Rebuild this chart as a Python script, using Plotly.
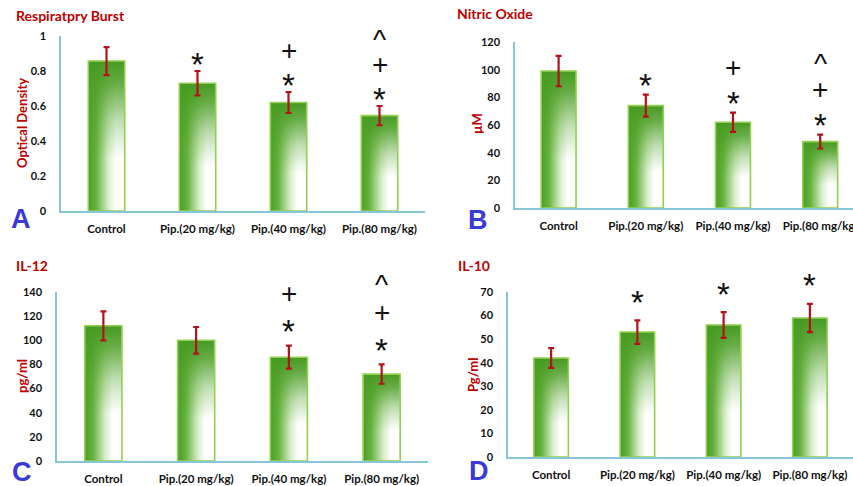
import plotly.graph_objects as go

W, H = 853, 486

groups = ["Control", "Pip.(20 mg/kg)", "Pip.(40 mg/kg)", "Pip.(80 mg/kg)"]

# Respiratory burst (optical density)
burst_mean = [0.857, 0.73, 0.62, 0.545]
burst_err = [0.08, 0.07, 0.06, 0.055]
burst_marks = [[], ["*"], ["*", "+"], ["*", "+", "^"]]

# Nitric oxide (µM)
no_mean = [99, 74, 62, 48]
no_err = [11, 8, 7, 5]
no_marks = [[], ["*"], ["*", "+"], ["*", "+", "^"]]

# IL-12 (pg/ml)
il12_mean = [112, 100, 86, 72]
il12_err = [12, 11, 9.5, 8]
il12_marks = [[], [], ["*", "+"], ["*", "+", "^"]]

# IL-10 (pg/ml)
il10_mean = [42, 53, 56, 59]
il10_err = [4.2, 5, 5.5, 6]
il10_marks = [[], ["*"], ["*"], ["*"]]

FONT = "Lato, 'Open Sans', sans-serif"
RED = "#c00000"
AXIS = "#86c6d6"
BORDER = "#92d050"
ERR = "#b3121b"

panels = [
    dict(title="Respiratpry Burst", ytitle="Optical Density", letter="A",
         mean=burst_mean, err=burst_err, marks=burst_marks,
         px=(61, 425), py=(211, 36), yr=(0, 1), dtick=0.2, xr=(-0.5, 3.5),
         title_xy=(14, 15), ytitle_xy=(22, 123), letter_xy=(21, 219),
         gap=11, step=30),
    dict(title="Nitric Oxide", ytitle="\u00b5M", letter="B",
         mean=no_mean, err=no_err, marks=no_marks,
         px=(515, 853), py=(208, 42), yr=(0, 120), dtick=20, xr=(-0.5, 3.376),
         title_xy=(455, 14), ytitle_xy=(477, 123), letter_xy=(478, 220),
         gap=13, step=31),
    dict(title="IL-12", ytitle="pg/ml", letter="C",
         mean=il12_mean, err=il12_err, marks=il12_marks,
         px=(57, 428), py=(461, 292), yr=(0, 140), dtick=20, xr=(-0.5, 3.5),
         title_xy=(14, 265), ytitle_xy=(22, 376), letter_xy=(22, 472),
         gap=18, step=33),
    dict(title="IL-10", ytitle="Pg/ml", letter="D",
         mean=il10_mean, err=il10_err, marks=il10_marks,
         px=(508, 853), py=(457, 292), yr=(0, 70), dtick=10, xr=(-0.5, 3.5),
         title_xy=(456, 265), ytitle_xy=(473, 375), letter_xy=(479, 471),
         gap=22, step=30),
]

HALF = 0.2  # half bar width in category units

# glyph sizes and how far each glyph's visual centre sits above its box middle
GLYPH_SIZE = {"*": 33, "+": 28, "^": 28}
GLYPH_RISE = {"*": 4, "+": -1, "^": 4}

fig = go.Figure()
layout = {}
annotations = []

for k, p in enumerate(panels):
    n = "" if k == 0 else str(k + 1)
    xref, yref = "x" + n, "y" + n
    xkey, ykey = "xaxis" + n, "yaxis" + n

    for i, v in enumerate(p["mean"]):
        x0, x1 = i - HALF, i + HALF
        xs = [x0, x1, x1, x0, x0]
        ys = [0, 0, v, v, 0]
        # horizontal shading: green on the left fading to white on the right
        fig.add_trace(go.Scatter(
            x=xs, y=ys, xaxis=xref, yaxis=yref, mode="lines", fill="toself",
            line=dict(width=0, color="rgba(0,0,0,0)"),
            fillgradient=dict(type="horizontal", start=x0, stop=x1,
                              colorscale=[[0, "#4a9d27"], [0.22, "#66b23f"],
                                          [0.55, "#d9edcb"], [0.75, "#ffffff"],
                                          [1, "#ffffff"]]),
            hoverinfo="skip"))
        # vertical shading: solid green at the top fading out downward
        fig.add_trace(go.Scatter(
            x=xs, y=ys, xaxis=xref, yaxis=yref, mode="lines", fill="toself",
            line=dict(width=1.6, color=BORDER),
            fillgradient=dict(type="vertical", start=0, stop=v,
                              colorscale=[[0, "rgba(84,168,48,0)"],
                                          [0.35, "rgba(84,168,48,0)"],
                                          [0.6, "rgba(80,162,42,0.35)"],
                                          [0.85, "rgba(76,158,38,0.85)"],
                                          [1, "rgba(70,154,34,1)"]]),
            hoverinfo="skip"))

    # error bars
    fig.add_trace(go.Scatter(
        x=list(range(len(p["mean"]))), y=p["mean"], xaxis=xref, yaxis=yref,
        mode="markers", marker=dict(size=1, opacity=0),
        error_y=dict(type="data", array=p["err"], color=ERR,
                     thickness=2.2, width=3),
        hoverinfo="skip"))

    layout[xkey] = dict(
        domain=[p["px"][0] / W, p["px"][1] / W], anchor=yref,
        range=list(p["xr"]), tickvals=list(range(len(groups))), ticktext=groups,
        showgrid=False, zeroline=False, showline=True, linecolor=AXIS,
        linewidth=1.5, ticks="", ticklabelstandoff=6, automargin=False,
        ticklabeloverflow="allow",
        tickfont=dict(family=FONT, size=11.5, color="#111111", weight="bold"))
    layout[ykey] = dict(
        domain=[1 - p["py"][0] / H, 1 - p["py"][1] / H], anchor=xref,
        range=list(p["yr"]), dtick=p["dtick"], tick0=0, automargin=False,
        showgrid=False, zeroline=False, showline=True, linecolor=AXIS,
        linewidth=1.5, ticks="", ticklabelstandoff=11,
        tickfont=dict(family=FONT, size=11, color="#111111", weight="bold"))

    # significance marks stacked above each error bar
    for i, marks in enumerate(p["marks"]):
        top = p["mean"][i] + p["err"][i]
        for j, m in enumerate(marks):
            annotations.append(dict(
                x=i, y=top, xref=xref, yref=yref, text=m, showarrow=False,
                xanchor="center", yanchor="middle",
                yshift=p["gap"] + j * p["step"] - GLYPH_RISE[m],
                font=dict(family="Liberation Sans, Arial, sans-serif",
                          size=GLYPH_SIZE[m], color="#111111")))

    tx, ty = p["title_xy"]
    annotations.append(dict(
        x=tx / W, y=1 - ty / H, xref="paper", yref="paper", text=p["title"],
        showarrow=False, xanchor="left", yanchor="middle",
        font=dict(family=FONT, size=14, color=RED, weight="bold")))
    yx, yy = p["ytitle_xy"]
    annotations.append(dict(
        x=yx / W, y=1 - yy / H, xref="paper", yref="paper", text=p["ytitle"],
        textangle=-90, showarrow=False, xanchor="center", yanchor="middle",
        font=dict(family=FONT, size=13, color=RED, weight="bold")))
    lx, ly = p["letter_xy"]
    annotations.append(dict(
        x=lx / W, y=1 - ly / H, xref="paper", yref="paper", text=p["letter"],
        showarrow=False, xanchor="center", yanchor="middle",
        font=dict(family="Liberation Sans, Arial, sans-serif", size=27,
                  color="#3a3ad6", weight="bold")))

fig.update_layout(
    width=W, height=H, margin=dict(l=0, r=0, t=0, b=0, autoexpand=False),
    paper_bgcolor="white", plot_bgcolor="white", showlegend=False,
    annotations=annotations, **layout)

fig.write_html("out.html")
